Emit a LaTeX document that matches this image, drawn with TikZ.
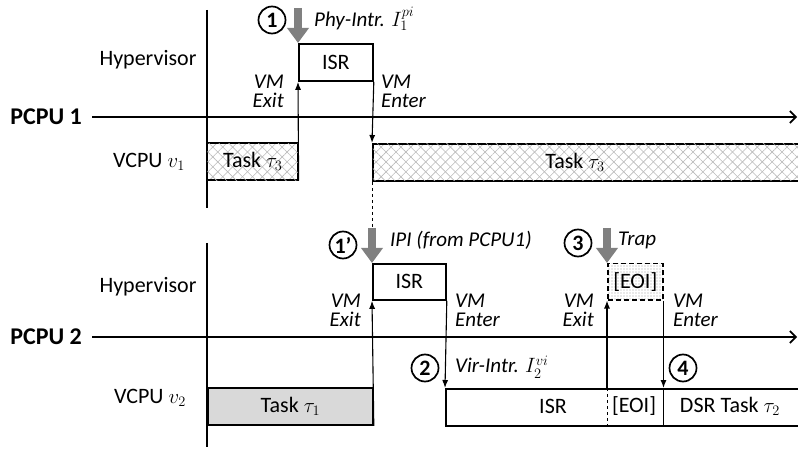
\documentclass[tikz,border=0pt]{standalone}
\usepackage{fontspec}
\setmainfont{Carlito}
\usetikzlibrary{arrows.meta, patterns.meta, positioning}

\begin{document}
\begin{tikzpicture}[
    x=1pt, y=-1pt,
    >={Latex[length=8pt,width=6pt]}, % tip for VM exit / enter
    font=\fontsize{22}{24}\selectfont,
    lane/.style={line width=1.8pt},
    axis/.style={line width=1.8pt, -{Straight Barb[length=6pt,width=12pt,line width=1.6pt]}},
    pcpu/.style={anchor=east, inner xsep=10pt, font=\fontsize{24}{24}\bfseries\selectfont},
    taskbox/.style={draw, line width=1.8pt, inner sep=0pt, anchor=north west},
    hatchbox/.style={taskbox,
        pattern={Lines[angle=45,distance=7pt,line width=0.6pt]}, pattern color=gray!55,
        postaction={pattern={Lines[angle=-45,distance=7pt,line width=0.6pt]}, pattern color=gray!55}},
    isrbox/.style={taskbox},
    eoibox/.style={taskbox, dash pattern=on 5pt off 3pt, line width=1.5pt,
        pattern={Dots[distance=3pt,radius=0.6pt]}, pattern color=gray!75},
    vmarrow/.style={->, line width=1.1pt},
    intarrow/.style={draw=gray, line width=8pt, -{Triangle[length=15pt,width=21pt]}},
    numcirc/.style={circle, draw, line width=1.7pt, minimum size=27pt, inner sep=0pt,
        font=\fontsize{22}{22}\bfseries\selectfont},
    intlabel/.style={anchor=west, inner sep=0pt, font=\fontsize{21}{23}\itshape\selectfont},
    vmexit/.style={anchor=east, align=right, inner sep=0pt, font=\fontsize{21}{19}\itshape\selectfont},
    vmenter/.style={anchor=west, align=left, inner sep=0pt, font=\fontsize{21}{19}\itshape\selectfont}
]
\useasboundingbox (0,0) rectangle (798,449);

% ---------------- PCPU 1 ----------------
\draw[lane] (207,10) -- (207,208);
\coordinate (ax1end) at (797,117);
\node[pcpu] (pcpu1) at (92,117) {PCPU 1};
\draw[axis] (pcpu1.east) -- (ax1end);

\node (hyp1) at (148,60) {Hypervisor};
\node (vcpu1) at (149,162) {VCPU $v_1$};

% boxes
\node[hatchbox, minimum width=91pt, minimum height=37pt] (task3a) at (207,143) {Task $\tau_3$};
\node[hatchbox, minimum width=428pt, minimum height=37pt] (task3b) at (372,143) {};
\node (task3txt) at (575,162) {Task $\tau_3$};
\node[isrbox, minimum width=74pt, minimum height=37pt] (isr1) at (298,43) {ISR};

% exit / enter
\draw[vmarrow] (task3a.south east) -- (isr1.south west);
\draw[vmarrow] (isr1.south east) -- (task3b.north west);
\node[vmexit] (exit1) at (284,91) {VM\\Exit};
\node[vmenter] (enter1) at (381,91) {VM\\Enter};

% physical interrupt
\coordinate (irq1) at (298,8);
\draw[intarrow] (irq1) -- (isr1.north west);
\node[numcirc] (n1) at (272,20) {1};
\node[intlabel] (phy) at (314,19) {Phy-Intr. $I_1^{pi}$};

% IPI to PCPU 2
\coordinate (ipi) at (372,228);
\draw[dashed, line width=0.8pt] (task3b.south west) -- (ipi);

% ---------------- PCPU 2 ----------------
\draw[lane] (207,243) -- (207,447);
\coordinate (ax2end) at (797,337);
\node[pcpu] (pcpu2) at (92,337) {PCPU 2};
\draw[axis] (pcpu2.east) -- (ax2end);

\node (hyp2) at (148,287) {Hypervisor};
\node (vcpu2) at (150,398) {VCPU $v_2$};

% boxes
\node[taskbox, fill=black!15, minimum width=165pt, minimum height=37pt] (task1) at (207,387) {Task $\tau_1$};
\node[isrbox, minimum width=73pt, minimum height=36pt] (isr2) at (372,263) {ISR};
\node[eoibox, minimum width=55pt, minimum height=36pt] (eoi) at (607,263) {};
\node (eoitxt) at (eoi) {[EOI]};
\node[taskbox, minimum width=355pt, minimum height=37pt] (vtask) at (445,388) {};
\draw[dashed, line width=0.8pt] (vtask.north west -| eoi.south west) -- (vtask.south west -| eoi.south west);
\draw[line width=1.8pt] (vtask.north west -| eoi.south east) -- (vtask.south west -| eoi.south east);
\node (visr) at (553,406) {ISR};
\node (veoi) at (634,406) {[EOI]};
\node (dsr) at (730,406) {DSR Task $\tau_2$};

% exit / enter
\draw[vmarrow] (task1.south east) -- (isr2.south west);
\draw[vmarrow] (isr2.south east) -- (vtask.north west);
\draw[vmarrow] (vtask.north west -| eoi.south west) -- (eoi.south west);
\draw[vmarrow] (eoi.south east) -- (vtask.north west -| eoi.south east);
\node[vmexit] (exit2) at (361,310) {VM\\Exit};
\node[vmenter] (enter2) at (455,310) {VM\\Enter};
\node[vmexit] (exit3) at (594,310) {VM\\Exit};
\node[vmenter] (enter3) at (673,310) {VM\\Enter};

% interrupts
\draw[intarrow] (ipi) -- (isr2.north west);
\node[numcirc] (n1b) at (343,245) {1’};
\node[intlabel] (ipilbl) at (390,240) {IPI (from PCPU1)};

\coordinate (trap) at (607,228);
\draw[intarrow] (trap) -- (eoi.north west);
\node[numcirc] (n3) at (578,243) {3};
\node[intlabel] (traplbl) at (618,240) {Trap};

\node[numcirc] (n2) at (425,368) {2};
\node[intlabel] (vir) at (455,367) {Vir-Intr. $I_2^{vi}$};
\node[numcirc] (n4) at (683,368) {4};

\end{tikzpicture}
\end{document}
